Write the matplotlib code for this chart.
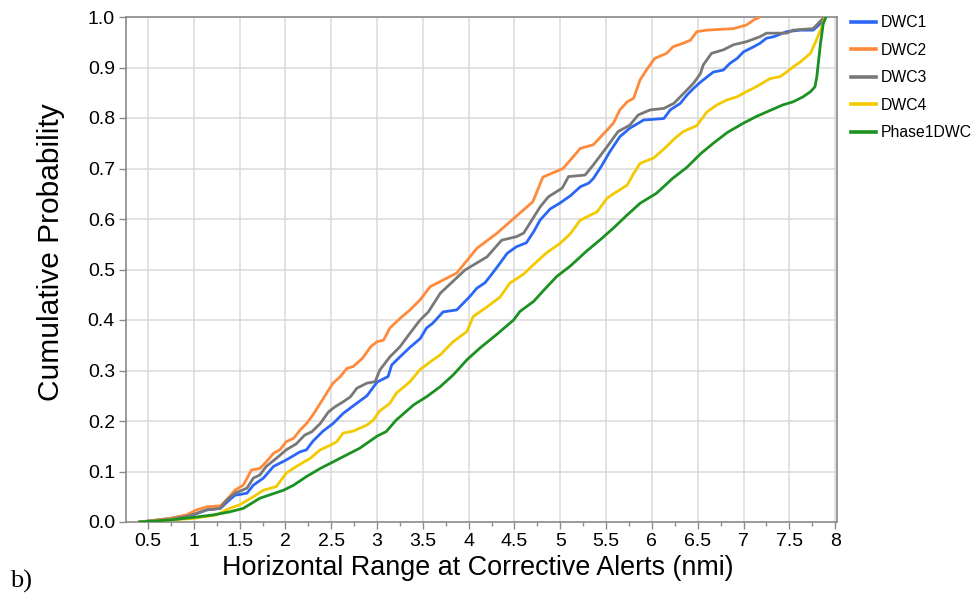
import matplotlib
matplotlib.use("Agg")
import matplotlib.pyplot as plt

plt.rcParams['font.family'] = ['Liberation Sans', 'DejaVu Sans']

# CDF curves (x = range in nmi, y = cumulative prob.)
dwc1_x = [0.41, 0.74, 0.85, 0.99, 1.14, 1.29, 1.39, 1.45, 1.58, 1.65, 1.76, 1.87,
          2.01, 2.16, 2.23, 2.30, 2.41, 2.52, 2.63, 2.74, 2.89, 3.00, 3.12, 3.16,
          3.25, 3.36, 3.47, 3.54, 3.61, 3.72, 3.87, 3.94, 4.01, 4.09, 4.18, 4.27,
          4.34, 4.42, 4.52, 4.63, 4.71, 4.78, 4.89, 5.00, 5.11, 5.22, 5.31, 5.36,
          5.45, 5.54, 5.65, 5.76, 5.91, 6.13, 6.20, 6.31, 6.38, 6.45, 6.53, 6.60,
          6.67, 6.78, 6.85, 6.93, 7.00, 7.11, 7.18, 7.25, 7.33, 7.47, 7.62, 7.76,
          7.84, 7.89]
dwc1_y = [0.0, 0.007, 0.011, 0.014, 0.024, 0.027, 0.044, 0.053, 0.057, 0.073, 0.087, 0.110,
          0.123, 0.139, 0.143, 0.160, 0.180, 0.195, 0.215, 0.230, 0.250, 0.277, 0.288, 0.311,
          0.327, 0.346, 0.363, 0.384, 0.394, 0.416, 0.420, 0.433, 0.446, 0.463, 0.474, 0.495,
          0.512, 0.532, 0.545, 0.553, 0.575, 0.598, 0.620, 0.632, 0.646, 0.664, 0.671, 0.680,
          0.705, 0.733, 0.763, 0.780, 0.796, 0.799, 0.816, 0.829, 0.845, 0.858, 0.871, 0.881,
          0.891, 0.895, 0.908, 0.918, 0.931, 0.941, 0.948, 0.958, 0.961, 0.971, 0.974, 0.974,
          0.987, 1.0]

dwc2_x = [0.41, 0.74, 0.92, 1.03, 1.14, 1.29, 1.36, 1.45, 1.54, 1.63, 1.72, 1.79,
          1.87, 1.94, 2.01, 2.09, 2.16, 2.23, 2.30, 2.38, 2.47, 2.52, 2.60, 2.67,
          2.74, 2.84, 2.93, 3.00, 3.07, 3.14, 3.25, 3.36, 3.47, 3.58, 3.87, 4.09,
          4.31, 4.51, 4.70, 4.81, 5.03, 5.22, 5.36, 5.51, 5.58, 5.65, 5.73, 5.80,
          5.87, 5.94, 6.03, 6.16, 6.23, 6.34, 6.42, 6.49, 6.60, 6.89, 7.03, 7.11,
          7.18]
dwc2_y = [0.0, 0.007, 0.014, 0.024, 0.030, 0.032, 0.044, 0.063, 0.073, 0.103, 0.106, 0.119,
          0.136, 0.143, 0.159, 0.166, 0.182, 0.195, 0.212, 0.235, 0.261, 0.275, 0.288, 0.304,
          0.308, 0.324, 0.347, 0.357, 0.360, 0.384, 0.403, 0.420, 0.440, 0.466, 0.493, 0.542,
          0.572, 0.604, 0.634, 0.683, 0.700, 0.740, 0.747, 0.776, 0.790, 0.816, 0.832, 0.839,
          0.875, 0.895, 0.918, 0.928, 0.941, 0.948, 0.954, 0.971, 0.974, 0.977, 0.984, 0.994,
          1.0]

dwc3_x = [0.41, 0.74, 0.92, 1.03, 1.14, 1.29, 1.36, 1.45, 1.58, 1.65, 1.72, 1.79,
          1.90, 2.01, 2.12, 2.21, 2.29, 2.38, 2.47, 2.54, 2.63, 2.71, 2.78, 2.89,
          2.98, 3.03, 3.14, 3.25, 3.36, 3.47, 3.56, 3.69, 3.96, 4.20, 4.36, 4.52,
          4.60, 4.69, 4.78, 4.87, 5.02, 5.09, 5.27, 5.36, 5.51, 5.63, 5.76, 5.85,
          5.98, 6.13, 6.24, 6.31, 6.38, 6.45, 6.53, 6.56, 6.65, 6.78, 6.89, 7.03,
          7.18, 7.25, 7.47, 7.54, 7.76, 7.85, 7.89]
dwc3_y = [0.0, 0.005, 0.011, 0.017, 0.024, 0.027, 0.044, 0.057, 0.067, 0.087, 0.093, 0.110,
          0.126, 0.143, 0.155, 0.172, 0.179, 0.195, 0.218, 0.228, 0.238, 0.248, 0.265, 0.275,
          0.278, 0.301, 0.327, 0.347, 0.374, 0.400, 0.416, 0.453, 0.499, 0.525, 0.558, 0.565,
          0.572, 0.598, 0.624, 0.644, 0.661, 0.684, 0.687, 0.707, 0.743, 0.773, 0.786, 0.806,
          0.816, 0.819, 0.829, 0.842, 0.855, 0.868, 0.888, 0.905, 0.928, 0.935, 0.945, 0.951,
          0.961, 0.968, 0.968, 0.974, 0.977, 0.994, 1.0]

dwc4_x = [0.41, 0.74, 0.99, 1.25, 1.39, 1.50, 1.65, 1.76, 1.90, 2.01, 2.12, 2.27,
          2.38, 2.49, 2.56, 2.63, 2.74, 2.89, 2.96, 3.03, 3.14, 3.21, 3.36, 3.47,
          3.61, 3.69, 3.83, 3.98, 4.05, 4.20, 4.34, 4.45, 4.60, 4.71, 4.85, 5.00,
          5.11, 5.22, 5.40, 5.51, 5.58, 5.73, 5.80, 5.87, 6.02, 6.14, 6.24, 6.34,
          6.49, 6.60, 6.71, 6.82, 6.93, 7.03, 7.14, 7.29, 7.40, 7.47, 7.54, 7.62,
          7.73, 7.78, 7.84, 7.89]
dwc4_y = [0.0, 0.004, 0.007, 0.014, 0.027, 0.034, 0.050, 0.063, 0.070, 0.097, 0.110, 0.126,
          0.143, 0.152, 0.159, 0.176, 0.180, 0.192, 0.202, 0.220, 0.235, 0.255, 0.278, 0.302,
          0.321, 0.331, 0.357, 0.377, 0.407, 0.426, 0.445, 0.473, 0.491, 0.510, 0.533, 0.552,
          0.571, 0.598, 0.614, 0.641, 0.650, 0.667, 0.690, 0.710, 0.721, 0.740, 0.758, 0.773,
          0.785, 0.812, 0.826, 0.836, 0.842, 0.852, 0.862, 0.878, 0.882, 0.891, 0.901, 0.911,
          0.928, 0.948, 0.974, 1.0]

phase1_x = [0.41, 0.74, 0.99, 1.21, 1.39, 1.54, 1.72, 1.98, 2.09, 2.23, 2.38, 2.52,
            2.67, 2.81, 3.00, 3.10, 3.21, 3.40, 3.54, 3.69, 3.83, 3.98, 4.12, 4.31,
            4.49, 4.56, 4.71, 4.82, 4.96, 5.11, 5.29, 5.43, 5.58, 5.73, 5.87, 6.05,
            6.23, 6.38, 6.53, 6.67, 6.82, 7.00, 7.14, 7.29, 7.43, 7.54, 7.65, 7.73,
            7.78, 7.80, 7.82, 7.84, 7.87, 7.90]
phase1_y = [0.0, 0.004, 0.009, 0.014, 0.020, 0.027, 0.047, 0.063, 0.073, 0.090, 0.106, 0.119,
            0.133, 0.146, 0.170, 0.179, 0.202, 0.232, 0.248, 0.268, 0.291, 0.321, 0.344, 0.372,
            0.400, 0.417, 0.437, 0.459, 0.486, 0.507, 0.537, 0.558, 0.582, 0.608, 0.631, 0.651,
            0.681, 0.702, 0.729, 0.750, 0.771, 0.790, 0.803, 0.815, 0.826, 0.832, 0.842, 0.852,
            0.862, 0.882, 0.915, 0.948, 0.987, 1.0]

x_ticks = [0.5, 1, 1.5, 2, 2.5, 3, 3.5, 4, 4.5, 5, 5.5, 6, 6.5, 7, 7.5, 8]
x_minor = [0.25 * k for k in range(2, 33)]
y_ticks = [0.0, 0.1, 0.2, 0.3, 0.4, 0.5, 0.6, 0.7, 0.8, 0.9, 1.0]

series = [
    ('DWC1', dwc1_x, dwc1_y, '#2b67f6'),
    ('DWC2', dwc2_x, dwc2_y, '#ff8a3c'),
    ('DWC3', dwc3_x, dwc3_y, '#787878'),
    ('DWC4', dwc4_x, dwc4_y, '#f3c900'),
    ('Phase1DWC', phase1_x, phase1_y, '#1a9120'),
]

fig = plt.figure(figsize=(9.77, 6.01), dpi=100)
ax = fig.add_axes([126 / 977, 1 - 522 / 601, 711 / 977, 505 / 601])

for name, xs, ys, col in series:
    ax.plot(xs, ys, color=col, lw=2.0, label=name, zorder=3)

ax.set_xlim(0.26, 8.02)
ax.set_ylim(0, 1.0)
ax.set_xticks(x_ticks)
ax.set_xticklabels([('%g' % v) for v in x_ticks])
ax.set_xticks(x_minor, minor=True)
ax.set_yticks(y_ticks)
ax.set_yticklabels(['%.1f' % v for v in y_ticks])

for s in ax.spines.values():
    s.set_color('#8a8a8a')
    s.set_linewidth(1.2)
ax.tick_params(which='major', direction='out', length=5, width=1, color='#8a8a8a',
               labelsize=14, pad=3)
ax.tick_params(which='minor', direction='out', length=3, width=1, color='#8a8a8a')

# light grid at every major tick
for v in x_ticks:
    ax.axvline(v, color='#dadada', lw=1.1, zorder=1)
for v in y_ticks[1:]:
    ax.axhline(v, color='#dadada', lw=1.1, zorder=1)

ax.set_xlabel('Horizontal Range at Corrective Alerts (nmi)', fontsize=19.4, va='center')
ax.xaxis.set_label_coords(0.495, -0.091)
ax.set_ylabel('Cumulative Probability', fontsize=21.5, va='center')
ax.yaxis.set_label_coords(-0.105, 0.535)

leg = ax.legend(loc='upper left', bbox_to_anchor=(851 / 977, 1 - 15 / 601),
                bbox_transform=fig.transFigure, frameon=False, fontsize=11.3,
                handlelength=1.6, handletextpad=0.3, labelspacing=0.8,
                borderpad=0, borderaxespad=0)
for ln in leg.get_lines():
    ln.set_linewidth(2.6)

fig.text(10 / 977, 1 - 581 / 601, 'b)', family=['Liberation Serif', 'DejaVu Serif'],
         fontsize=19, ha='left', va='center')

fig.savefig('out.png', dpi=100)
